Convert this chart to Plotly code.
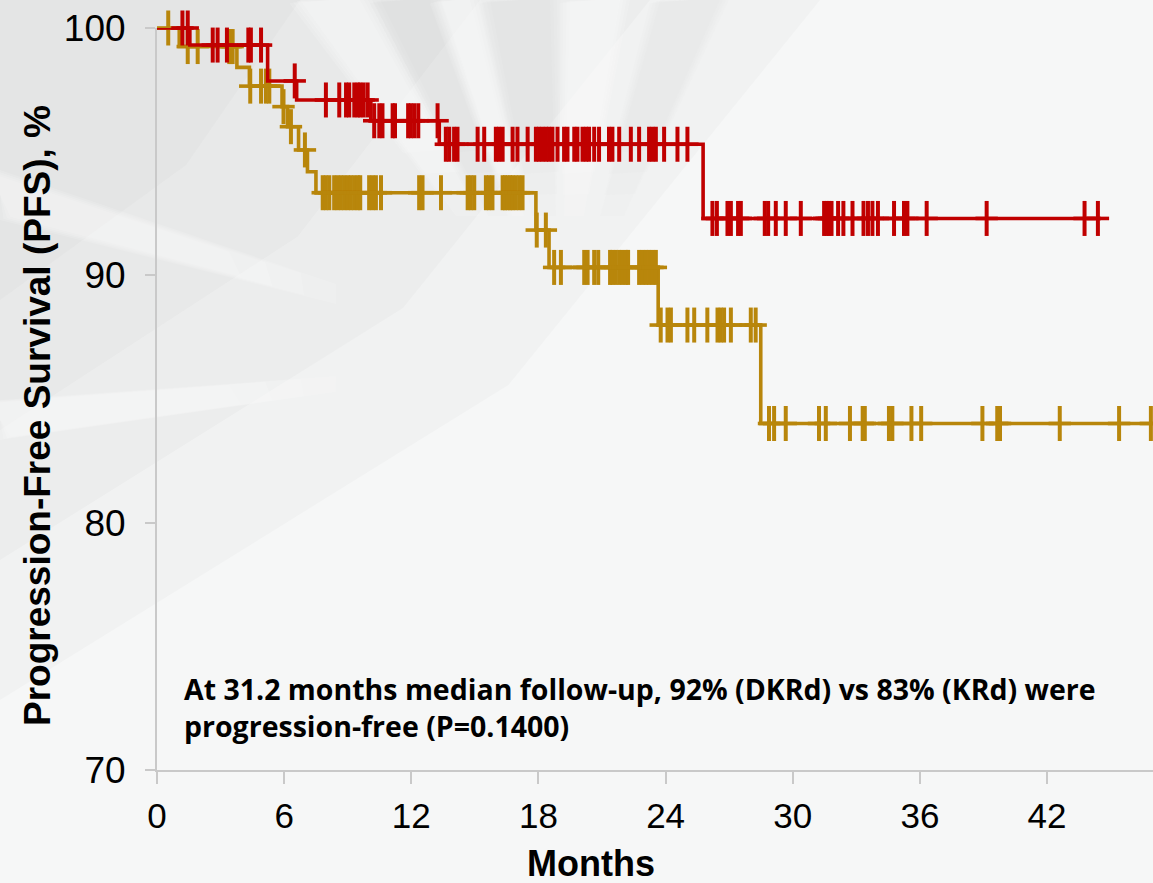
import plotly.graph_objects as go

# ---- Data -------------------------------------------------------------
# DKRd arm: times of progression events (months) and PFS (%) after each event
dkrd_event_months = [1.55, 5.22, 6.59, 10.09, 13.32, 25.77]
dkrd_event_pfs = [99.31, 97.86, 97.09, 96.25, 95.30, 92.30]
dkrd_censor_months = [
    1.20, 1.45,
    2.63, 2.86, 3.30, 4.31, 4.43, 4.91,
    6.50,
    7.97, 8.60, 8.92, 9.07, 9.31, 9.47, 9.59, 9.75, 9.94,
    10.25, 10.49, 10.64, 11.12, 11.23, 11.85, 11.98, 12.14, 12.33, 13.24,
    13.63, 13.79, 14.02, 14.18, 15.13, 15.44, 15.99, 16.14, 16.31, 16.78,
    17.01, 17.49, 17.88, 18.03, 18.19, 18.35, 18.50, 18.66, 18.90, 19.21,
    19.37, 19.69, 19.84, 20.08, 20.24, 20.39, 20.63, 20.86, 21.33, 21.49,
    21.81, 22.36, 22.75, 23.22, 23.38, 23.54, 23.93, 24.56, 25.03,
    26.21, 26.42, 26.92, 27.08, 27.42, 27.55, 28.68, 28.84, 29.20, 29.67,
    30.38, 31.48, 31.60, 31.71, 31.83, 32.14, 32.39, 32.82, 33.34, 33.55,
    33.76, 34.02, 34.78, 35.25, 35.41, 36.32, 39.15, 43.77, 44.40,
]
dkrd_end_month = 44.55

# KRd arm
krd_event_months = [1.05, 3.77, 4.36, 5.90, 6.16, 6.68, 7.10, 7.50,
                    17.88, 18.50, 23.65, 28.49]
krd_event_pfs = [99.25, 98.41, 97.65, 96.82, 96.01, 95.07, 94.19, 93.34,
                 91.83, 90.32, 87.99, 84.01]
krd_censor_months = [
    0.53,
    1.45, 1.92, 3.41, 3.49, 3.57,
    4.40, 4.91, 5.14, 5.30,
    5.97,
    6.32,
    6.98,
    7.82, 7.97, 8.13, 8.36, 8.52, 8.68, 8.84, 9.00, 9.15, 9.31, 9.47, 9.59,
    10.01, 10.17, 10.33, 10.57, 12.37, 12.53, 13.40, 14.66, 14.81, 14.97,
    15.52, 15.67, 15.83, 16.31, 16.42, 16.54, 16.67, 16.78, 16.93, 17.09, 17.25,
    17.92, 18.35,
    18.74, 19.06, 20.16, 20.32, 20.63, 20.82, 21.38, 21.49, 21.65, 21.81,
    21.96, 22.12, 22.23, 22.75, 22.91, 23.07, 23.22, 23.38, 23.54,
    23.77, 24.09, 24.25, 25.03, 25.35, 25.97, 26.45, 26.60, 26.76, 27.08,
    28.02, 28.25,
    28.88, 29.12, 29.67, 31.24, 31.56, 32.70, 33.30, 33.40, 34.54, 34.70,
    35.60, 36.06, 38.95, 39.65, 39.78, 42.60, 45.40, 46.90,
]
krd_end_month = 47.0

x_ticks = [0, 6, 12, 18, 24, 30, 36, 42]
y_ticks = [70, 80, 90, 100]

RED = "#C00000"
GOLD = "#B8860B"

# plot area in pixels (used to place the text and backdrop in paper units)
PL, PR, PT, PB = 157, 1153, 28, 770


def px(x):
    return (x - PL) / (PR - PL)


def py(y):
    return (PB - y) / (PB - PT)


def pfs_at(t, event_months, event_pfs):
    """Kaplan-Meier step value at time t."""
    value = 100.0
    for m, p in zip(event_months, event_pfs):
        if m <= t:
            value = p
    return value


def add_arm(fig, name, event_months, event_pfs, censor_months, end_month, color):
    xs = [0] + event_months + [end_month]
    ys = [100] + event_pfs + [event_pfs[-1]]
    fig.add_trace(go.Scatter(
        x=xs, y=ys, mode="lines", name=name,
        line=dict(color=color, width=3.6, shape="hv"),
        cliponaxis=False, showlegend=False, hoverinfo="skip",
    ))
    cy = [pfs_at(t, event_months, event_pfs) for t in censor_months]
    # censor marks: tall vertical stroke with a short horizontal arm
    fig.add_trace(go.Scatter(
        x=censor_months, y=cy, mode="markers", name=name + " censored",
        marker=dict(symbol="line-ns", size=25, color=color,
                    line=dict(color=color, width=4)),
        cliponaxis=False, showlegend=False,
    ))
    fig.add_trace(go.Scatter(
        x=censor_months, y=cy, mode="markers", hoverinfo="skip",
        marker=dict(symbol="line-ew", size=16, color=color,
                    line=dict(color=color, width=3.6)),
        cliponaxis=False, showlegend=False,
    ))


fig = go.Figure()
add_arm(fig, "KRd", krd_event_months, krd_event_pfs, krd_censor_months,
        krd_end_month, GOLD)
add_arm(fig, "DKRd", dkrd_event_months, dkrd_event_pfs, dkrd_censor_months,
        dkrd_end_month, RED)


# soft grey backdrop with pale rays in the upper left
def poly(points, fill):
    d = "M " + " L ".join(f"{px(x):.4f},{py(y):.4f}" for x, y in points) + " Z"
    return dict(type="path", xref="paper", yref="paper", path=d,
                fillcolor=fill, line=dict(width=0), layer="below")


def lerp(p, q, t):
    return (p[0] + (q[0] - p[0]) * t, p[1] + (q[1] - p[1]) * t)


def soft_ray(apex, a, b, rgb, alpha, steps=4, spread=14, reach=0.6):
    """Ray band from edge points a..b towards apex, fading before the apex."""
    out = []
    for i in range(steps):
        s = spread * (steps - 1 - i) / steps
        pa = (a[0] - s, a[1] + s * 0.3)
        pb = (b[0] + s, b[1] - s * 0.3)
        r = reach * (0.7 + 0.3 * i / max(steps - 1, 1))
        out.append(poly([pa, pb, lerp(pb, apex, r), lerp(pa, apex, r)],
                        f"rgba({rgb},{alpha / steps:.3f})"))
    return out


shapes = []
# grey haze, denser towards the top-left corner
for w, h in [(820, 700), (650, 560), (480, 430), (300, 300)]:
    shapes.append(poly([(0, 0), (w, 0), (w * 0.62, h * 0.55), (0, h)],
                       "rgba(175,175,175,0.06)"))
apex = (560, 360)
for a, b in [((300, 0), (360, 0)), ((440, 0), (470, 0)), ((570, 0), (620, 0)),
             ((0, 170), (0, 220)), ((0, 400), (0, 440))]:
    shapes += soft_ray(apex, a, b, "255,255,255", 0.55)
for a, b in [((380, 0), (430, 0)), ((490, 0), (550, 0)), ((660, 0), (720, 0))]:
    shapes += soft_ray(apex, a, b, "160,160,160", 0.10)

axis_gray = "#c9c9c9"
fig.update_layout(
    width=1153, height=883,
    margin=dict(l=PL, r=1153 - PR, t=PT, b=883 - PB),
    paper_bgcolor="#f6f7f7",
    plot_bgcolor="rgba(0,0,0,0)",
    font=dict(family="Liberation Sans, Arial, sans-serif", color="#000000"),
    shapes=shapes,
    xaxis=dict(
        range=[0, 47], tickvals=x_ticks, ticktext=[str(v) for v in x_ticks],
        showgrid=False, zeroline=False, showline=True, linecolor=axis_gray,
        linewidth=2, ticks="outside", ticklen=12, tickwidth=1.5,
        tickcolor=axis_gray, tickfont=dict(size=35), ticklabelstandoff=2,
    ),
    yaxis=dict(
        range=[70, 100], tickvals=y_ticks, ticktext=[str(v) for v in y_ticks],
        showgrid=False, zeroline=False, showline=True, linecolor=axis_gray,
        linewidth=2, ticks="outside", ticklen=10, tickwidth=1.5,
        tickcolor=axis_gray, ticklabelstandoff=12,
        tickfont=dict(size=37, family="Liberation Sans, Arial, sans-serif"),
    ),
    annotations=[
        dict(text="<b>Months</b>", xref="paper", yref="paper",
             x=px(591), y=py(864), xanchor="center", yanchor="middle",
             showarrow=False, font=dict(size=36)),
        dict(text="<b>Progression-Free Survival (PFS), %</b>",
             xref="paper", yref="paper", x=px(37), y=py(416), textangle=-90,
             xanchor="center", yanchor="middle", showarrow=False,
             font=dict(size=37)),
        dict(text="<b>At 31.2 months median follow-up, 92% (DKRd) vs 83% (KRd) were"
                  "<br>progression-free (P=0.1400)</b>",
             xref="paper", yref="paper", x=px(182), y=py(707),
             xanchor="left", yanchor="middle", align="left", showarrow=False,
             font=dict(size=28.5, family="Open Sans, Noto Sans, sans-serif")),
    ],
)

fig.write_html("out.html")
